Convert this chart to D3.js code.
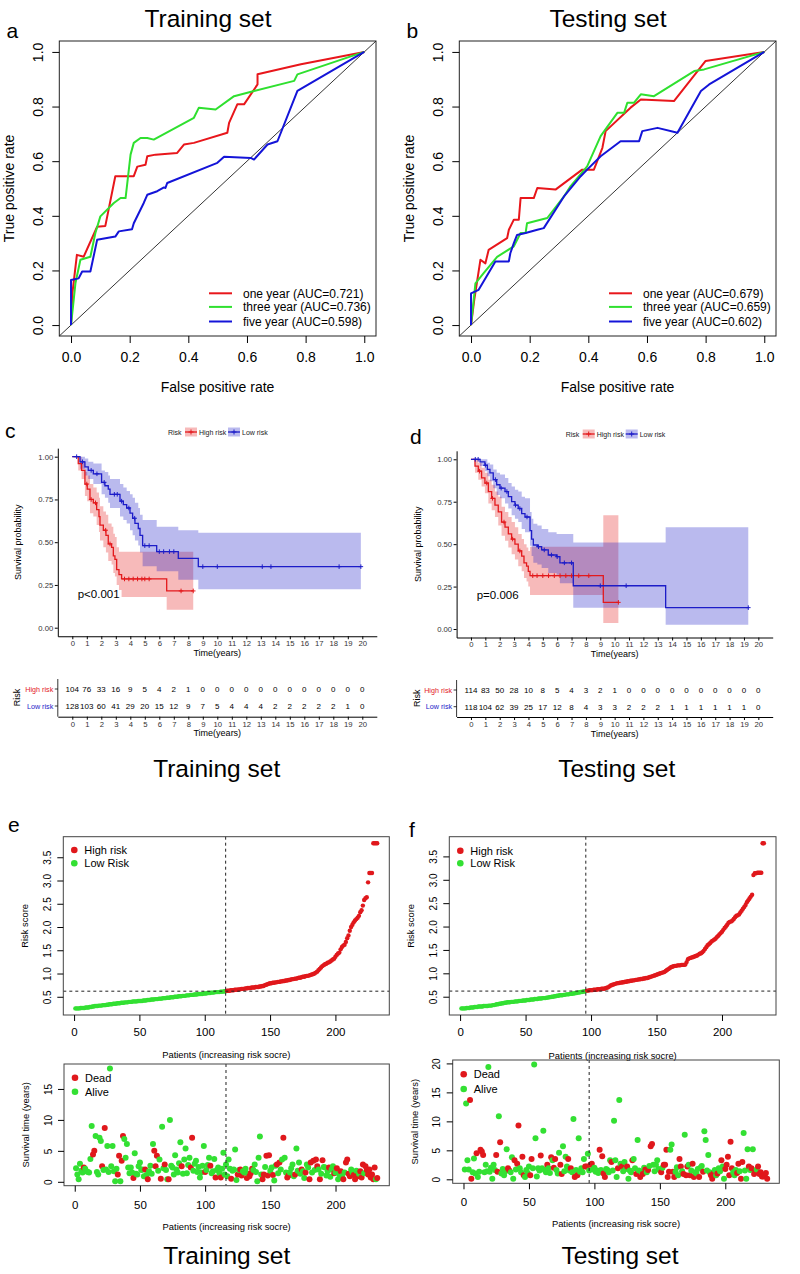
<!DOCTYPE html>
<html><head><meta charset="utf-8">
<script src="https://cdn.jsdelivr.net/npm/d3@7/dist/d3.min.js"></script>
<style>
body{margin:0;background:#fff;}
svg{display:block;font-family:"Liberation Sans",Arial,Helvetica,sans-serif;}
</style></head><body>
<svg id="fig" width="800" height="1274"></svg>
<script>
// ================= DATA =================
const rocTicks = [0, 0.2, 0.4, 0.6, 0.8, 1.0];
const rocTrainLabels = ["one year (AUC=0.721)", "three year (AUC=0.736)", "five year (AUC=0.598)"];
const rocTestLabels  = ["one year (AUC=0.679)", "three year (AUC=0.659)", "five year (AUC=0.602)"];
// [false positive rate, true positive rate]
const rocTrainOne = [[0,0],[0.005,0.12],[0.02,0.257],[0.043,0.25],[0.089,0.36],[0.117,0.363],[0.151,0.545],[0.214,0.545],[0.226,0.58],[0.254,0.587],[0.26,0.618],[0.288,0.624],[0.362,0.63],[0.385,0.661],[0.419,0.667],[0.533,0.704],[0.539,0.74],[0.567,0.808],[0.59,0.808],[0.636,0.881],[0.636,0.918],[0.784,0.955],[1,1]];
const rocTrainThree = [[0,0],[0.015,0.153],[0.032,0.239],[0.066,0.25],[0.083,0.337],[0.1,0.398],[0.146,0.447],[0.169,0.465],[0.186,0.465],[0.203,0.624],[0.214,0.667],[0.237,0.685],[0.26,0.685],[0.282,0.679],[0.419,0.759],[0.436,0.796],[0.493,0.789],[0.556,0.838],[0.624,0.857],[0.761,0.894],[0.772,0.918],[1,1]];
const rocTrainFive = [[0,0],[0,0.165],[0.026,0.171],[0.038,0.196],[0.066,0.196],[0.089,0.312],[0.151,0.324],[0.163,0.343],[0.208,0.351],[0.214,0.373],[0.248,0.447],[0.26,0.477],[0.294,0.49],[0.317,0.504],[0.322,0.502],[0.328,0.52],[0.499,0.594],[0.522,0.616],[0.613,0.612],[0.624,0.606],[0.67,0.661],[0.704,0.673],[0.772,0.857],[1,1]];
const rocTestOne = [[0,0],[0.011,0.092],[0.032,0.239],[0.049,0.226],[0.06,0.275],[0.123,0.318],[0.129,0.349],[0.146,0.386],[0.163,0.386],[0.169,0.465],[0.214,0.465],[0.226,0.502],[0.288,0.496],[0.379,0.569],[0.419,0.569],[0.448,0.649],[0.459,0.71],[0.544,0.796],[0.579,0.826],[0.692,0.82],[0.8,0.967],[1,1]];
const rocTestThree = [[0,0],[0.015,0.153],[0.043,0.19],[0.089,0.25],[0.146,0.288],[0.169,0.337],[0.186,0.337],[0.191,0.373],[0.26,0.392],[0.317,0.471],[0.339,0.508],[0.396,0.581],[0.442,0.692],[0.499,0.777],[0.522,0.777],[0.533,0.814],[0.556,0.814],[0.579,0.845],[0.624,0.838],[0.761,0.93],[0.795,0.936],[1,1]];
const rocTestFive = [[0,0],[0,0.116],[0.026,0.129],[0.083,0.233],[0.129,0.233],[0.134,0.263],[0.146,0.3],[0.157,0.33],[0.186,0.337],[0.226,0.349],[0.248,0.355],[0.317,0.471],[0.374,0.545],[0.396,0.569],[0.442,0.618],[0.51,0.673],[0.573,0.673],[0.584,0.71],[0.636,0.722],[0.704,0.704],[0.784,0.857],[0.812,0.881],[1,1]];

// Kaplan-Meier: [time, survival, lower CI, upper CI]
const kmTrainHigh = [[0,1,1,1],[0.41,0.96,0.92,1.0],[0.64,0.92,0.87,0.97],[0.87,0.84,0.77,0.91],[1.03,0.81,0.74,0.89],[1.22,0.75,0.67,0.84],[1.45,0.73,0.65,0.82],[1.68,0.69,0.60,0.79],[1.84,0.65,0.56,0.76],[1.91,0.60,0.51,0.71],[2.14,0.57,0.47,0.68],[2.32,0.54,0.44,0.66],[2.48,0.49,0.39,0.61],[2.71,0.47,0.37,0.59],[2.83,0.42,0.32,0.55],[2.94,0.40,0.30,0.53],[3.06,0.34,0.25,0.47],[3.22,0.31,0.22,0.444],[3.40,0.285,0.18,0.444],[6.51,0.215,0.105,0.444],[8.34,0.215,0.105,0.444]];
const kmTrainLow = [[0,1,1,1],[0.53,0.97,0.93,1.0],[0.87,0.94,0.89,0.99],[1.10,0.92,0.87,0.97],[1.45,0.90,0.84,0.96],[2.02,0.85,0.78,0.92],[2.25,0.83,0.76,0.91],[2.48,0.81,0.73,0.89],[2.60,0.78,0.70,0.87],[3.29,0.74,0.65,0.84],[3.52,0.72,0.63,0.82],[3.75,0.70,0.61,0.80],[3.98,0.67,0.57,0.78],[4.16,0.64,0.54,0.76],[4.32,0.61,0.51,0.73],[4.55,0.58,0.48,0.70],[4.67,0.54,0.44,0.66],[4.85,0.48,0.36,0.63],[5.82,0.445,0.33,0.59],[7.31,0.405,0.28,0.57],[8.69,0.357,0.225,0.555],[19.9,0.357,0.225,0.555]];
const kmTestHigh = [[0,1,1,1],[0.28,0.96,0.92,1.0],[0.51,0.93,0.88,0.98],[0.74,0.89,0.84,0.95],[0.97,0.86,0.80,0.92],[1.21,0.81,0.74,0.88],[1.44,0.77,0.70,0.85],[1.67,0.73,0.66,0.81],[1.90,0.69,0.61,0.78],[2.13,0.63,0.55,0.72],[2.37,0.60,0.52,0.69],[2.60,0.56,0.48,0.66],[2.83,0.53,0.44,0.63],[3.06,0.50,0.41,0.60],[3.29,0.46,0.37,0.56],[3.53,0.43,0.34,0.53],[3.69,0.39,0.30,0.50],[3.87,0.37,0.28,0.48],[3.99,0.34,0.25,0.46],[4.11,0.314,0.20,0.485],[9.21,0.157,0.035,0.67],[10.26,0.157,0.035,0.67]];
const kmTestLow = [[0,1,1,1],[0.63,0.985,0.96,1.0],[0.97,0.965,0.93,1.0],[1.14,0.94,0.90,0.98],[1.32,0.92,0.87,0.97],[1.55,0.88,0.83,0.94],[1.79,0.85,0.79,0.92],[2.02,0.83,0.77,0.91],[2.37,0.81,0.74,0.89],[2.60,0.78,0.71,0.86],[2.83,0.75,0.67,0.84],[3.06,0.73,0.65,0.82],[3.29,0.71,0.63,0.81],[3.53,0.68,0.59,0.78],[3.76,0.66,0.57,0.77],[4.11,0.58,0.49,0.69],[4.22,0.53,0.43,0.65],[4.34,0.495,0.39,0.62],[4.62,0.485,0.38,0.61],[4.92,0.466,0.36,0.59],[5.38,0.436,0.33,0.57],[5.96,0.426,0.32,0.56],[6.19,0.39,0.27,0.56],[7.12,0.255,0.125,0.51],[13.55,0.126,0.025,0.60],[19.3,0.126,0.025,0.60]];
const kmTrainHighCensor = [1.0,1.3,1.6,2.3,2.6,3.6,3.9,4.2,4.5,4.8,5.0,5.3,7.5,8.34];
const kmTrainLowCensor = [0.3,0.7,1.3,1.7,2.2,2.9,3.1,3.4,3.9,4.3,5.0,5.3,6.0,6.3,6.7,7.0,9.0,10.0,13.1,13.7,18.4,19.9];
const kmTestHighCensor = [0.6,1.1,1.5,2.3,2.9,3.4,4.3,4.6,5.0,5.4,5.8,6.2,6.6,7.0,7.5,8.2,10.26];
const kmTestLowCensor = [0.3,0.5,1.0,1.7,2.1,2.5,3.1,3.4,3.9,4.7,5.1,5.6,6.0,6.5,7.0,9.0,10.8,19.3];
const kmYears = [0,1,2,3,4,5,6,7,8,9,10,11,12,13,14,15,16,17,18,19,20];
const kmSurvTicks = [0, 0.25, 0.5, 0.75, 1.0];
const kmPTrain = "p<0.001";
const kmPTest = "p=0.006";
const riskGroups = ["High risk", "Low risk"];
const atRiskTrainHigh = [104,76,33,16,9,5,4,2,1,0,0,0,0,0,0,0,0,0,0,0,0];
const atRiskTrainLow  = [128,103,60,41,29,20,15,12,9,7,5,4,4,4,2,2,2,2,2,1,0];
const atRiskTestHigh  = [114,83,50,28,10,8,5,4,3,2,1,0,0,0,0,0,0,0,0,0,0];
const atRiskTestLow   = [118,104,62,39,25,17,12,8,4,3,3,2,2,2,1,1,1,1,1,1,0];

// Risk score (sorted) per patient
const trainRisk = [0.25,0.25,0.25,0.25,0.26,0.26,0.26,0.26,0.27,0.27,
0.27,0.28,0.28,0.29,0.29,0.30,0.30,0.30,0.31,0.31,
0.31,0.32,0.32,0.32,0.33,0.33,0.34,0.34,0.34,0.35,
0.35,0.35,0.36,0.36,0.36,0.37,0.37,0.37,0.38,0.38,
0.38,0.39,0.39,0.39,0.40,0.40,0.40,0.40,0.41,0.41,
0.41,0.41,0.42,0.42,0.42,0.43,0.43,0.43,0.44,0.44,
0.44,0.45,0.45,0.45,0.46,0.46,0.46,0.47,0.47,0.47,
0.48,0.48,0.48,0.49,0.49,0.49,0.50,0.50,0.50,0.51,
0.51,0.51,0.52,0.52,0.52,0.53,0.53,0.53,0.54,0.54,
0.54,0.55,0.55,0.55,0.56,0.56,0.56,0.56,0.57,0.57,
0.57,0.58,0.58,0.58,0.59,0.59,0.59,0.60,0.60,0.60,
0.60,0.61,0.61,0.61,0.62,0.62,
0.63,0.63,0.63,0.64,0.64,0.64,0.65,0.65,0.65,0.66,0.66,0.67,0.67,0.67,
0.68,0.68,0.69,0.69,0.69,0.70,0.70,0.70,0.71,0.71,0.71,0.72,0.72,0.73,0.73,
0.75,0.76,0.77,0.78,0.79,
0.79,0.80,0.80,0.81,0.81,0.82,0.82,0.83,0.83,0.84,0.84,0.85,0.85,0.86,0.86,
0.87,0.88,0.88,0.89,0.89,0.90,0.91,0.91,0.92,0.93,0.93,0.94,0.95,0.95,0.96,
0.97,0.98,0.99,1.00,1.02,1.04,
1.07,1.10,1.13,1.16,1.18,1.20,
1.21,1.23,1.24,1.26,1.28,1.30,1.32,1.36,
1.40,1.43,1.45,1.52,1.57,1.60,1.62,1.68,1.76,1.82,
1.92,2.00,2.05,2.10,2.14,2.17,2.20,2.24,2.32,2.36,
2.46,2.58,2.62,2.64,2.96,3.16,
3.16,3.16,3.80,
3.80,3.80,3.80];
const testRisk = [0.25,0.25,0.25,0.25,0.26,0.26,0.26,0.27,0.27,0.27,
0.28,0.28,0.28,0.29,0.29,0.29,0.29,0.30,0.30,0.30,
0.30,0.31,0.31,0.31,0.32,0.32,0.33,0.34,0.34,0.35,
0.35,0.36,0.36,0.37,0.37,0.38,0.38,0.38,0.39,0.39,
0.39,0.40,0.40,0.40,0.41,0.41,0.41,0.42,0.42,0.42,
0.43,0.43,0.43,0.44,0.44,0.44,0.45,0.45,0.45,0.46,
0.46,0.46,0.47,0.47,0.47,0.48,0.48,0.49,0.49,0.50,
0.50,0.51,0.51,0.52,0.52,0.53,0.53,0.53,0.54,0.54,
0.55,0.55,0.55,0.56,0.56,0.57,0.57,0.58,0.58,0.59,
0.59,0.60,0.60,0.61,0.61,0.62,
0.63,0.63,0.64,0.64,0.64,0.65,0.65,0.65,0.66,0.66,0.66,0.67,0.67,0.67,
0.68,0.69,0.70,0.72,0.74,0.75,0.76,0.77,0.78,0.79,
0.79,0.80,0.80,0.81,0.81,0.82,0.82,0.83,0.83,0.84,
0.84,0.85,0.85,0.86,0.86,0.87,0.87,0.88,0.88,0.89,
0.89,0.90,0.90,0.91,0.92,0.93,0.94,0.95,0.96,0.97,
0.98,0.99,1.00,1.01,1.02,1.03,1.05,1.07,1.09,1.11,
1.13,1.14,1.15,1.16,1.16,1.17,1.17,1.17,1.18,1.18,1.18,1.19,
1.24,1.30,1.32,1.33,1.34,1.35,1.36,1.37,
1.38,1.40,1.42,1.43,1.45,1.48,1.52,1.56,1.60,1.62,
1.65,1.68,1.70,1.72,1.74,1.77,1.80,1.83,1.86,1.89,
1.93,1.97,2.00,2.04,2.08,2.10,2.11,2.13,2.16,2.20,
2.23,2.24,2.26,2.30,2.34,2.38,2.42,2.46,2.52,2.56,
2.60,2.64,2.68,3.10,
3.14,3.14,3.15,3.15,3.15,3.15,
3.78,3.78];
const trainLowCount = 116;
const testLowCount = 96;
const riskCutoff = [0.62, 0.62];
const riskScoreTicks = [0.5,1.0,1.5,2.0,2.5,3.0,3.5];
const patientTicks = [0,50,100,150,200];
const riskLegend = ["High risk", "Low Risk"];
const statusLegend = ["Dead", "Alive"];

// Survival time (years) and status (1 = dead) per patient, same order
const trainTime = [2.2,1.2,0.4,2.9,1.8,1.5,2.3,2.1,1.7,1.6,
1.5,3.7,9.0,4.4,5.0,7.4,1.6,1.2,7.1,6.6,
2.5,1.9,8.7,2.0,5.8,1.6,18.3,2.5,5.8,1.7,
0.1,2.1,1.2,4.2,0.1,3.4,7.4,6.9,3.9,6.1,
2.3,1.4,2.3,1.5,0.6,4.6,1.3,1.2,2.5,3.1,
1.9,2.0,0.9,2.0,1.1,0.4,1.7,2.6,1.3,6.1,
5.0,2.5,4.2,1.8,3.6,0.5,8.9,2.2,2.8,1.9,
0.4,0.4,10.0,2.6,2.3,1.2,4.3,2.0,1.5,3.0,
6.4,2.5,1.3,3.6,5.4,1.4,2.7,3.9,2.3,7.1,
1.8,2.9,3.4,1.6,2.4,0.7,1.5,2.6,5.8,1.6,
1.9,2.7,3.9,2.6,1.4,1.7,3.7,0.7,1.9,2.3,
1.4,0.7,2.1,4.7,1.2,2.8,0.9,3.6,2.1,0.5,
1.8,2.0,5.2,0.3,1.2,1.9,2.0,1.0,1.7,1.5,
2.1,0.6,1.3,0.9,1.4,2.1,1.9,2.8,1.6,0.1,
3.9,7.3,1.2,0.4,1.2,2.4,4.2,1.0,4.3,1.8,
2.3,1.1,0.2,2.6,2.8,1.4,3.1,2.0,3.6,7.1,
3.9,1.5,0.7,1.0,1.5,2.2,2.8,0.9,1.2,5.4,
1.8,3.1,1.3,2.0,1.7,0.6,1.5,2.8,2.3,0.4,
3.1,1.5,3.4,1.9,3.6,2.5,2.0,0.4,1.3,3.5,
2.4,2.3,1.0,1.7,2.3,0.8,2.0,2.5,1.4,1.5,
2.2,0.4,1.2,1.7,0.9,0.4,1.5,3.1,3.6,1.3,
0.9,2.0,1.5,1.1,0.4,1.8,0.9,1.3,1.7,0.7,
2.8,1.4,2.5,1.9,1.2,2.0,0.7,1.2,0.4,2.3,
0.4,0.6];
const trainStatus = [0,0,0,0,0,0,1,0,0,0,
0,0,0,1,1,0,0,0,0,0,
1,0,1,0,0,0,0,0,0,0,
0,0,1,1,0,1,1,0,0,0,
0,0,0,0,1,0,0,0,0,0,
0,0,0,1,0,1,0,0,0,0,
1,1,1,0,0,1,0,0,1,0,
0,1,0,0,0,0,0,0,0,0,
0,1,0,0,0,0,0,0,1,1,
0,0,0,0,0,0,0,0,0,1,
0,0,0,1,0,0,0,1,0,0,
0,1,0,0,0,0,0,0,0,1,
0,0,0,0,1,0,1,1,0,0,
0,1,0,1,1,1,0,0,0,0,
0,0,0,1,1,0,1,1,1,0,
0,1,0,0,1,0,1,0,0,1,
0,0,1,1,0,0,0,0,1,0,
0,0,0,1,0,0,1,0,0,1,
1,0,1,0,1,1,0,1,0,1,
0,0,0,0,1,0,0,0,1,0,
1,0,0,1,0,1,0,1,1,1,
1,0,0,1,1,0,1,0,1,1,
1,0,1,1,1,1,1,1,1,1,
0,1];
const testTime = [1.7,13.1,3.3,1.7,13.7,0.1,1.2,3.6,1.0,4.5,
0.4,1.3,5.1,4.8,4.2,1.2,2.5,1.4,19.4,1.3,
2.0,0.1,2.5,1.6,4.2,1.3,10.9,6.4,1.0,1.8,
0.7,1.4,5.2,1.9,1.5,1.2,3.8,0.1,3.3,1.7,
2.7,9.3,1.9,1.2,3.9,0.7,0.4,1.6,1.1,2.2,
0.7,3.5,1.9,19.8,7.1,0.5,1.9,1.5,4.1,1.9,
8.4,1.6,1.2,2.5,1.9,1.1,3.8,3.3,2.0,3.5,
1.6,1.0,4.6,2.5,0.9,5.7,1.4,3.9,2.2,3.5,
1.5,1.9,1.2,10.4,0.4,1.6,0.7,7.1,1.3,1.9,
1.2,3.5,2.2,2.2,4.4,1.5,2.5,2.7,1.7,2.0,
1.3,1.5,1.1,5.1,1.6,4.0,1.0,0.4,1.8,1.6,
1.2,3.3,3.0,1.5,10.1,3.3,0.4,1.9,13.7,2.7,
2.2,1.4,3.0,1.8,2.2,0.1,1.5,1.2,3.3,3.5,
1.9,0.9,6.8,1.5,0.4,1.3,0.9,2.0,1.7,1.2,
1.6,2.3,5.7,6.1,2.5,1.4,2.5,3.3,1.8,1.6,
1.2,2.0,2.5,2.5,5.1,0.4,1.3,5.1,6.0,1.3,
0.4,1.3,2.1,0.7,3.5,2.2,1.4,0.9,7.7,0.7,
2.2,2.5,0.7,1.5,2.7,0.4,1.2,1.0,1.8,0.4,
2.0,2.3,1.3,8.3,6.8,1.5,4.2,1.2,0.7,0.1,
1.0,1.6,0.7,1.0,1.9,1.4,3.3,2.2,0.1,1.8,
2.5,3.9,0.7,6.5,1.9,1.2,0.7,1.6,1.1,2.7,
1.4,0.1,3.0,8.0,1.5,0.1,5.2,2.2,1.6,1.9,
5.2,0.9,1.3,1.7,2.2,0.9,1.2,0.5,0.5,0.7,
1.1,0.1];
const testStatus = [0,0,0,0,1,1,0,0,0,1,
0,0,1,1,1,0,0,0,0,0,
0,0,0,0,1,1,0,1,0,0,
0,0,0,1,1,0,0,0,1,0,
1,1,0,0,1,1,0,0,0,0,
1,1,0,0,0,0,0,0,1,0,
0,0,0,1,0,0,1,0,1,1,
0,0,0,1,1,0,0,0,0,1,
0,1,0,0,1,0,1,0,0,0,
0,0,1,1,0,0,1,1,0,0,
0,0,0,1,0,1,1,1,0,0,
0,0,1,0,0,0,0,1,0,0,
1,0,0,0,1,0,0,0,1,0,
0,1,0,0,1,0,1,0,1,0,
1,0,1,1,0,0,0,0,0,0,
1,0,1,1,1,1,1,0,0,1,
1,0,0,0,1,1,0,1,0,1,
1,0,1,0,1,1,0,0,0,1,
0,0,1,0,0,0,0,0,1,1,
1,0,0,1,0,0,1,0,0,1,
1,1,1,1,1,0,0,0,1,1,
0,1,1,0,0,0,0,1,0,1,
0,1,1,0,1,1,1,1,1,1,
1,1];
const survTicksTrain = [0,5,10,15];
const survTicksTest = [0,5,10,15,20];

// ================= DRAWING =================
const svg = d3.select('#fig');
const FONT = '"Liberation Sans", Arial, Helvetica, sans-serif';
const ROC_COLORS = ['#e8161b', '#2fe02f', '#1414d8'];
const KM_RED = '#e3191c', KM_BLUE = '#1c1cc8';
const PT_RED = '#e0181c', PT_GREEN = '#33e033';

function txt(g, s, x, y, size, o = {}) {
  const t = g.append('text').attr('x', x).attr('y', y).attr('font-size', size)
    .attr('text-anchor', o.anchor || 'start').attr('fill', o.fill || '#000').text(s);
  if (o.rot) t.attr('transform', `rotate(-90 ${x} ${y})`);
  return t;
}
function styleAxis(g, size, color) {
  g.attr('font-family', FONT).attr('font-size', size);
  if (color) g.selectAll('text').attr('fill', color);
}

// ---------- ROC ----------
function drawROC(ox, title, letter, curves, labels) {
  const g = svg.append('g').attr('transform', `translate(${ox},0)`);
  const x = d3.scaleLinear().domain([-0.04, 1.04]).range([59.3, 376]);
  const y = d3.scaleLinear().domain([-0.04, 1.04]).range([336, 41]);
  txt(g, title, 208, 26.7, 24.5, {anchor: 'middle'});
  txt(g, letter, 6.5, 38.3, 21);
  g.append('line').attr('x1', x(-0.04)).attr('y1', y(-0.04)).attr('x2', x(1.04)).attr('y2', y(1.04))
    .attr('stroke', '#000').attr('stroke-width', 0.8);
  const line = d3.line().x(d => x(d[0])).y(d => y(d[1]));
  curves.forEach((c, i) => g.append('path').attr('d', line(c)).attr('fill', 'none')
    .attr('stroke', ROC_COLORS[i]).attr('stroke-width', 2).attr('stroke-linejoin', 'round'));
  g.append('rect').attr('x', 59.3).attr('y', 41).attr('width', 376 - 59.3).attr('height', 336 - 41)
    .attr('fill', 'none').attr('stroke', '#222').attr('stroke-width', 1);
  const ax = g.append('g').attr('transform', 'translate(0,336)')
    .call(d3.axisBottom(x).tickValues(rocTicks).tickSize(7).tickFormat(d3.format('.1f')));
  ax.select('.domain').remove(); styleAxis(ax, 14);
  ax.selectAll('text').attr('dy', null).attr('y', 26);
  const ay = g.append('g').attr('transform', 'translate(59.3,0)')
    .call(d3.axisLeft(y).tickValues(rocTicks).tickSize(7).tickFormat(d3.format('.1f')));
  ay.select('.domain').remove(); styleAxis(ay, 14);
  ay.selectAll('text').attr('x', 0).attr('dy', null).attr('y', -16.3)
    .attr('text-anchor', 'middle').attr('transform', 'rotate(-90)');
  txt(g, 'False positive rate', 217.6, 391.5, 14, {anchor: 'middle'});
  txt(g, 'True positive rate', 13.5, 188.5, 14, {anchor: 'middle', rot: true});
  const ly = [293.3, 306.9, 321.5];
  labels.forEach((s, i) => {
    g.append('line').attr('x1', 209).attr('x2', 232).attr('y1', ly[i]).attr('y2', ly[i])
      .attr('stroke', ROC_COLORS[i]).attr('stroke-width', 2);
    txt(g, s, 243, ly[i] + 4.3, 12);
  });
}
drawROC(0, 'Training set', 'a', [rocTrainOne, rocTrainThree, rocTrainFive], rocTrainLabels);
drawROC(400, 'Testing set', 'b', [rocTestOne, rocTestThree, rocTestFive], rocTestLabels);

// ---------- Kaplan-Meier ----------
function survAt(rows, t) {
  let s = rows[0][1];
  for (const r of rows) { if (r[0] <= t) s = r[1]; }
  return s;
}
function drawKM(c) {
  const g = svg.append('g');
  const x = d3.scaleLinear().domain([-1, 21]).range([c.x0, c.x1]);
  const y = d3.scaleLinear().domain([-0.05, 1.05]).range([c.yb, c.yt]);
  txt(g, c.letter, c.lx, c.ly, 21);
  // legend
  txt(g, 'Risk', c.legX, c.legY + 2.5, 7, {fill: '#222'});
  [[c.legX + 17, KM_RED, riskGroups[0]], [c.legX + 60, KM_BLUE, riskGroups[1]]].forEach(([kx, col, lab]) => {
    g.append('rect').attr('x', kx).attr('y', c.legY - 4.5).attr('width', 12).attr('height', 9)
      .attr('fill', col).attr('fill-opacity', 0.3);
    g.append('line').attr('x1', kx).attr('x2', kx + 12).attr('y1', c.legY).attr('y2', c.legY)
      .attr('stroke', col).attr('stroke-width', 1.3);
    g.append('path').attr('d', `M${kx + 6 - 2.5},${c.legY}h5M${kx + 6},${c.legY - 2.5}v5`)
      .attr('stroke', col).attr('stroke-width', 1);
    txt(g, lab, kx + 14, c.legY + 2.5, 7, {fill: '#222'});
  });
  const area = d3.area().curve(d3.curveStepAfter).x(d => x(d[0])).y0(d => y(d[2])).y1(d => y(d[3]));
  const line = d3.line().curve(d3.curveStepAfter).x(d => x(d[0])).y(d => y(d[1]));
  [[c.high, KM_RED], [c.low, KM_BLUE]].forEach(([rows, col]) =>
    g.append('path').attr('d', area(rows)).attr('fill', col).attr('fill-opacity', 0.3));
  [[c.high, KM_RED, c.highC], [c.low, KM_BLUE, c.lowC]].forEach(([rows, col, cens]) => {
    g.append('path').attr('d', line(rows)).attr('fill', 'none').attr('stroke', col).attr('stroke-width', 1.3);
    cens.forEach(t => {
      const px = x(t), py = y(survAt(rows, t));
      g.append('path').attr('d', `M${px - 2.3},${py}h4.6M${px},${py - 2.3}v4.6`)
        .attr('stroke', col).attr('stroke-width', 1);
    });
  });
  const ax = g.append('g').attr('transform', `translate(0,${c.yb})`)
    .call(d3.axisBottom(x).tickValues(kmYears).tickSize(3).tickSizeOuter(0).tickPadding(1.5));
  styleAxis(ax, 7.7, '#333');
  const ay = g.append('g').attr('transform', `translate(${c.x0},0)`)
    .call(d3.axisLeft(y).tickValues(kmSurvTicks).tickFormat(d3.format('.2f')).tickSize(3).tickSizeOuter(0).tickPadding(1.5));
  styleAxis(ay, 7.7, '#333');
  txt(g, 'Survival probability', c.ylabX, (c.yt + c.yb) / 2, 9, {anchor: 'middle', rot: true});
  txt(g, 'Time(years)', (c.x0 + c.x1) / 2, c.yb + 19.5, 9, {anchor: 'middle'});
  txt(g, c.p, c.px, c.py, 11.5);
  // risk table
  const tb = c.tBottom;
  g.append('line').attr('x1', c.x0).attr('x2', c.x0).attr('y1', c.rowHigh - 10).attr('y2', tb).attr('stroke', '#000').attr('stroke-width', 0.8);
  const at = g.append('g').attr('transform', `translate(0,${tb})`)
    .call(d3.axisBottom(x).tickValues(kmYears).tickSize(3).tickSizeOuter(0).tickPadding(1.5));
  styleAxis(at, 7.7, '#333');
  [[c.rowHigh, KM_RED, riskGroups[0], c.atHigh], [c.rowLow, KM_BLUE, riskGroups[1], c.atLow]].forEach(([ry, col, lab, vals]) => {
    txt(g, lab, c.x0 - 4.5, ry + 2.5, 7.2, {anchor: 'end', fill: col});
    g.append('line').attr('x1', c.x0 - 3).attr('x2', c.x0).attr('y1', ry).attr('y2', ry).attr('stroke', '#000').attr('stroke-width', 0.8);
    vals.forEach((v, i) => txt(g, v, x(kmYears[i]), ry + 2.8, 8, {anchor: 'middle'}));
  });
  txt(g, 'Risk', c.riskX, (c.rowHigh + c.rowLow) / 2, 9, {anchor: 'middle', rot: true});
  txt(g, 'Time(years)', (c.x0 + c.x1) / 2, tb + 19.5, 9, {anchor: 'middle'});
  txt(g, c.subtitle, c.subX, 776.5, 24.5, {anchor: 'middle'});
}
drawKM({x0: 57.8, x1: 376.8, yt: 448.15, yb: 636.25, letter: 'c', lx: 5, ly: 438.3,
  legX: 168, legY: 432, high: kmTrainHigh, low: kmTrainLow, highC: kmTrainHighCensor, lowC: kmTrainLowCensor,
  ylabX: 21.2, p: kmPTrain, px: 77.7, py: 598, tBottom: 716.7, rowHigh: 689, rowLow: 706,
  atHigh: atRiskTrainHigh, atLow: atRiskTrainLow, riskX: 20.2, subtitle: 'Training set', subX: 216.7});
drawKM({x0: 456.6, x1: 772.7, yt: 450.8, yb: 637.5, letter: 'd', lx: 410, ly: 444,
  legX: 565.7, legY: 434, high: kmTestHigh, low: kmTestLow, highC: kmTestHighCensor, lowC: kmTestLowCensor,
  ylabX: 421.5, p: kmPTest, px: 476.7, py: 599, tBottom: 717, rowHigh: 690, rowLow: 706.7,
  atHigh: atRiskTestHigh, atLow: atRiskTestLow, riskX: 420.2, subtitle: 'Testing set', subX: 616.7});

// ---------- Risk score & survival status ----------
function scatterPanel(c) {
  const g = svg.append('g');
  const n = c.vals.length;
  const x = d3.scaleLinear().domain([1 - 0.04 * (n - 1), n + 0.04 * (n - 1)]).range([c.x0, c.x1]);
  const [mn, mx] = d3.extent(c.vals); const r = mx - mn;
  const y = d3.scaleLinear().domain([mn - 0.04 * r, mx + 0.04 * r]).range([c.y1, c.y0]);
  c.vals.forEach((v, i) => g.append('circle').attr('cx', x(i + 1)).attr('cy', y(v)).attr('r', c.r)
    .attr('fill', c.color(i)));
  const dash = '3,3';
  g.append('line').attr('x1', x(c.low)).attr('x2', x(c.low)).attr('y1', c.y0).attr('y2', c.y1)
    .attr('stroke', '#222').attr('stroke-dasharray', dash).attr('stroke-width', 1);
  if (c.cut != null) g.append('line').attr('x1', c.x0).attr('x2', c.x1).attr('y1', y(c.cut)).attr('y2', y(c.cut))
    .attr('stroke', '#222').attr('stroke-dasharray', dash).attr('stroke-width', 1);
  g.append('rect').attr('x', c.x0).attr('y', c.y0).attr('width', c.x1 - c.x0).attr('height', c.y1 - c.y0)
    .attr('fill', 'none').attr('stroke', '#444').attr('stroke-width', 1);
  const ax = g.append('g').attr('transform', `translate(0,${c.y1})`)
    .call(d3.axisBottom(x).tickValues(patientTicks).tickSize(6));
  ax.select('.domain').remove(); styleAxis(ax, 11.5);
  ax.selectAll('text').attr('dy', null).attr('y', c.xLabOff);
  const ay = g.append('g').attr('transform', `translate(${c.x0},0)`)
    .call(d3.axisLeft(y).tickValues(c.yTicks).tickSize(6).tickFormat(c.yFmt));
  ay.select('.domain').remove(); styleAxis(ay, 10);
  ay.selectAll('text').attr('x', 0).attr('dy', null).attr('y', -12.5)
    .attr('text-anchor', 'middle').attr('transform', 'rotate(-90)');
  txt(g, 'Patients (increasing risk socre)', (c.x0 + c.x1) / 2, c.xTitleY, 9.4, {anchor: 'middle'});
  txt(g, c.yTitle, c.x0 - 35, (c.y0 + c.y1) / 2, 9.4, {anchor: 'middle', rot: true});
  c.legend.forEach((s, i) => {
    const ly = c.y0 + c.legY[i];
    g.append('circle').attr('cx', c.x0 + 11).attr('cy', ly).attr('r', 3.3).attr('fill', c.legCol[i]);
    txt(g, s, c.x0 + 21, ly + 4, 11);
  });
  if (c.letter) txt(g, c.letter, c.lx, c.ly, 21);
  if (c.subtitle) txt(g, c.subtitle, c.subX, 1263.5, 24.5, {anchor: 'middle'});
}
const fmt1 = d3.format('.1f'), fmt0 = d3.format('d');
scatterPanel({x0: 63.3, x1: 389.3, y0: 836.7, y1: 1015, vals: trainRisk, r: 2.2,
  color: i => i < trainLowCount ? PT_GREEN : PT_RED, low: trainLowCount, cut: riskCutoff[0],
  xLabOff: 20.7, xTitleY: 1058.3, yTicks: riskScoreTicks, yFmt: fmt1, yTitle: 'Risk score',
  legend: riskLegend, legCol: [PT_RED, PT_GREEN], legY: [13.3, 26.6], letter: 'e', lx: 8, ly: 831.7});
scatterPanel({x0: 449.3, x1: 776, y0: 836.7, y1: 1015, vals: testRisk, r: 2.2,
  color: i => i < testLowCount ? PT_GREEN : PT_RED, low: testLowCount, cut: riskCutoff[1],
  xLabOff: 20.7, xTitleY: 1058.8, yTicks: riskScoreTicks, yFmt: fmt1, yTitle: 'Risk score',
  legend: riskLegend, legCol: [PT_RED, PT_GREEN], legY: [14, 26.6], letter: 'f', lx: 409, ly: 836.7});
scatterPanel({x0: 64, x1: 389.3, y0: 1064, y1: 1185.7, vals: trainTime, r: 3,
  color: i => trainStatus[i] === 1 ? PT_RED : PT_GREEN, low: trainLowCount, cut: null,
  xLabOff: 23.3, xTitleY: 1230, yTicks: survTicksTrain, yFmt: fmt0, yTitle: 'Survival time (years)',
  legend: statusLegend, legCol: [PT_RED, PT_GREEN], legY: [13.7, 27.7], subtitle: 'Training set', subX: 226.7});
scatterPanel({x0: 452.7, x1: 779.3, y0: 1060, y1: 1183.3, vals: testTime, r: 3,
  color: i => testStatus[i] === 1 ? PT_RED : PT_GREEN, low: testLowCount, cut: null,
  xLabOff: 22.4, xTitleY: 1226.6, yTicks: survTicksTest, yFmt: fmt0, yTitle: 'Survival time (years)',
  legend: statusLegend, legCol: [PT_RED, PT_GREEN], legY: [14.3, 29], subtitle: 'Testing set', subX: 620});
</script>
</body></html>
